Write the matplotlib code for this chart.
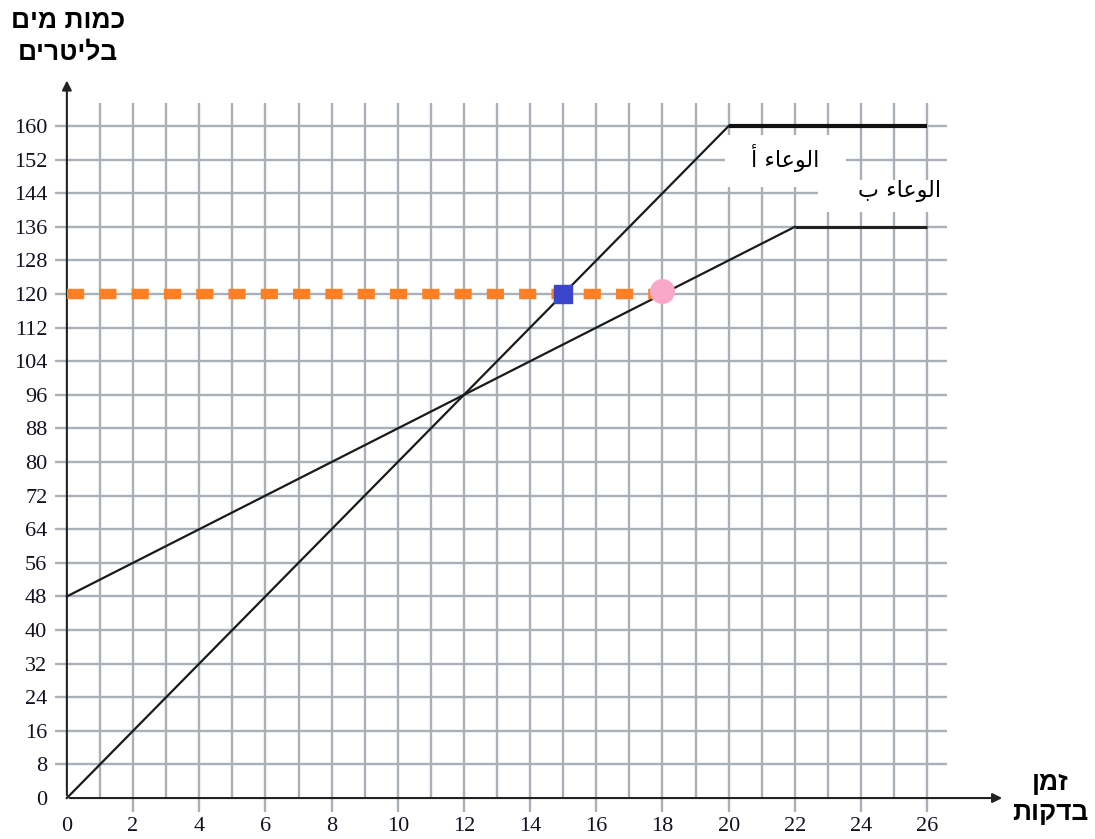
import matplotlib
matplotlib.use('Agg')
import matplotlib.pyplot as plt
from matplotlib.patches import Rectangle

plt.rcParams['font.family'] = 'Liberation Serif'

# נתוני הכלים
time_a = [0, 20, 26]
water_a = [0, 160, 160]
time_b = [0, 22, 26]
water_b = [48, 136, 136]

# קו 120 ליטר ונקודות
level = 120
dash_x = [0, 18]
blue_point = (15, 120)
pink_point = (18, 120.8)

x_ticks = list(range(0, 27, 2))
y_ticks = list(range(0, 161, 8))

# matplotlib בלי bidi - הטקסט נכתב הפוך
y_title = 'םימ תומכ\nםירטילב'
x_title = 'ןמז\nתוקדב'
label_a = '\uFE83 \uFE80\uFE8E\uFECB\uFEEE\uFEDF\uFE8D'   # الوعاء أ
label_b = '\uFE8F \uFE80\uFE8E\uFECB\uFEEE\uFEDF\uFE8D'   # الوعاء ب

fig = plt.figure(figsize=(10.95, 8.39), dpi=100)
ax = fig.add_axes([0.0502, 0.0323, 0.8721, 0.8776])
ax.set_xlim(-0.36, 28.5)
ax.set_ylim(-3.3, 172)
for s in ax.spines.values():
    s.set_visible(False)

grid_c = '#a9b0b7'
# רשת
for x in range(1, 27):
    bottom = -3.3 if x % 2 == 0 else 0
    ax.plot([x, x], [bottom, 165.5], color=grid_c, lw=1.7, zorder=1, solid_capstyle='butt')
for y in range(8, 161, 8):
    ax.plot([-0.36, 26.6], [y, y], color=grid_c, lw=1.7, zorder=1, solid_capstyle='butt')

# צירים עם חצים
ax.annotate('', xy=(28.35, 0), xytext=(0, 0),
            arrowprops=dict(arrowstyle='-|>', color='#222222', lw=1.5, mutation_scale=14), zorder=3)
ax.annotate('', xy=(0, 171.5), xytext=(0, 0),
            arrowprops=dict(arrowstyle='-|>', color='#222222', lw=1.5, mutation_scale=14), zorder=3)

# קווים
ax.plot(time_a[:2], water_a[:2], color='#1a1a1a', lw=1.6, zorder=4)
ax.plot(time_a[1:], water_a[1:], color='#111111', lw=3.0, zorder=4, solid_capstyle='butt')
ax.plot(time_b[:2], water_b[:2], color='#1a1a1a', lw=1.6, zorder=4)
ax.plot(time_b[1:], water_b[1:], color='#222222', lw=2.2, zorder=4, solid_capstyle='butt')

ax.plot(dash_x, [level, level], color='#fd8124', lw=7.5, dashes=(1.65, 1.45),
        dash_capstyle='butt', zorder=5)
ax.plot(*blue_point, marker='s', ms=13, color='#3b45c9', zorder=6)
ax.plot(*pink_point, marker='o', ms=17, color='#f9a8ca', zorder=6)

# תוויות הכלים
ax.add_patch(Rectangle((19.88, 145.5), 3.68, 12.4, facecolor='white', edgecolor='none', zorder=5))
ax.add_patch(Rectangle((22.69, 139.5), 4.0, 7.6, facecolor='white', edgecolor='none', zorder=5))
ax.text(21.7, 152.3, label_a, family='DejaVu Sans', fontsize=16, ha='center', va='center', zorder=7)
ax.text(25.15, 144.5, label_b, family='DejaVu Sans', fontsize=16, ha='center', va='center', zorder=7)

ax.set_xticks(x_ticks)
ax.set_yticks(y_ticks)
ax.tick_params(length=0, labelsize=16, labelcolor='#111122')
ax.tick_params(axis='y', pad=5.5)
ax.tick_params(axis='x', pad=3.5)

fig.text(68 / 1095, 1 - 37 / 839, y_title, family='Liberation Sans', fontweight='bold',
         fontsize=19, ha='center', va='center', multialignment='center', linespacing=1.4)
fig.text(1050 / 1095, 1 - 798 / 839, x_title, family='Liberation Sans', fontweight='bold',
         fontsize=19, ha='center', va='center', multialignment='center', linespacing=1.3)

fig.savefig('out.png', dpi=100)
